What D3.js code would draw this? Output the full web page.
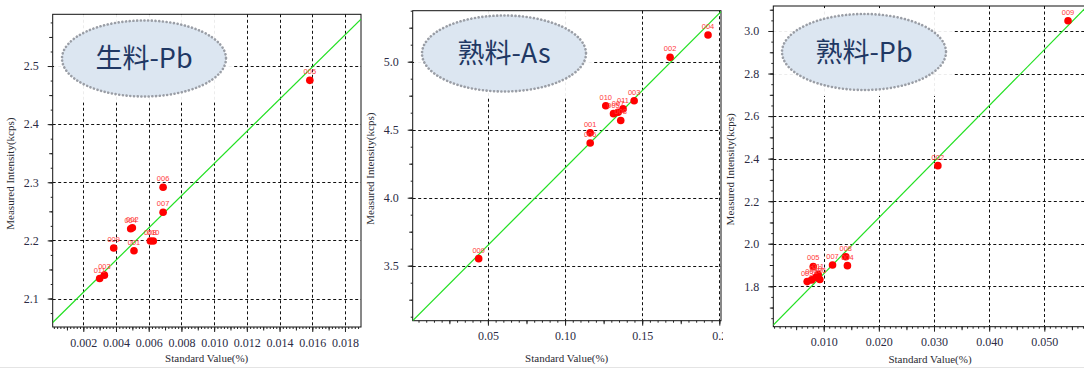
<!DOCTYPE html>
<html>
<head>
<meta charset="utf-8">
<script src="https://cdn.jsdelivr.net/npm/d3@7"></script>
<style>
  body { margin: 0; background: #fff; }
  svg text.serif, svg .tick text { font-family: "Times New Roman", "Liberation Serif", serif !important; }
</style>
</head>
<body>
<svg id="chart" width="1084" height="370"></svg>
<script>
// sample names (same set for every panel)
const sampleNames = ["001", "002", "003", "004", "005", "006", "007", "008", "009", "010", "011"];

// 生料-Pb
const rawPbX = [0.00510, 0.00500, 0.00329, 0.00490, 0.01585, 0.00688, 0.00688, 0.00610, 0.00386, 0.00628, 0.00300];
const rawPbY = [2.1823, 2.2218, 2.1402, 2.2201, 2.4754, 2.2914, 2.2484, 2.1990, 2.1870, 2.1990, 2.1344];
const rawPbFit = [27.69, 2.0552];   // slope, intercept
const rawPbXTicks = [0.002, 0.004, 0.006, 0.008, 0.010, 0.012, 0.014, 0.016, 0.018];
const rawPbYTicks = [2.1, 2.2, 2.3, 2.4, 2.5];

// 熟料-As
const clkAsX = [0.1163, 0.1681, 0.1448, 0.1927, 0.1314, 0.1163, 0.1344, 0.1361, 0.0440, 0.1264, 0.1376];
const clkAsY = [4.478, 5.032, 4.713, 5.196, 4.618, 4.402, 4.628, 4.568, 3.552, 4.676, 4.653];
const clkAsFit = [11.367, 3.0816];
const clkAsXTicks = [0.05, 0.10, 0.15, 0.20];
const clkAsYTicks = [3.5, 4.0, 4.5, 5.0];

// 熟料-Pb
const clkPbX = [0.0078, 0.0307, 0.0070, 0.0143, 0.0081, 0.0093, 0.0116, 0.0140, 0.0543, 0.0086, 0.0090];
const clkPbY = [1.830, 2.367, 1.822, 1.897, 1.893, 1.832, 1.900, 1.939, 3.048, 1.842, 1.855];
const clkPbFit = [26.33, 1.5954];
const clkPbXTicks = [0.010, 0.020, 0.030, 0.040, 0.050];
const clkPbYTicks = [1.8, 2.0, 2.2, 2.4, 2.6, 2.8, 3.0];

const svg = d3.select("#chart");
const defs = svg.append("defs");

const panels = [
  {
    id: "p1", title: "生料-Pb", clip: [0, 362],
    px: [52.7, 361], py: [327, 14.3],
    xDom: [0.00013, 0.01898], yDom: [2.051, 2.589],
    xs: rawPbX, ys: rawPbY, fit: rawPbFit,
    xTicks: rawPbXTicks, yTicks: rawPbYTicks,
    xMid: 0.001, xMinor: 0.0002, yMid: 0.05, yMinor: 0.025,
    xFmt: d3.format(".3f"), yFmt: d3.format(".1f"),
    ell: [144, 58.5], xTitle: [206.7, 362], yTitleX: 14
  },
  {
    id: "p2", title: "熟料-As", clip: [362, 723],
    px: [412.7, 721], py: [320.7, 10.7],
    xDom: [0.00123, 0.2011], yDom: [3.0956, 5.375],
    xs: clkAsX, ys: clkAsY, fit: clkAsFit,
    xTicks: clkAsXTicks, yTicks: clkAsYTicks,
    xMid: 0.025, xMinor: 0.005, yMid: 0.25, yMinor: 0.125,
    xFmt: d => d === 0.2 ? "0.2" : d3.format(".2f")(d), yFmt: d3.format(".1f"),
    ell: [504, 53.5], xTitle: [566.7, 362], yTitleX: 373.5
  },
  {
    id: "p3", title: "熟料-Pb", clip: [723, 1084],
    px: [773.3, 1088], py: [326.7, 6],
    xDom: [0.00086, 0.05792], yDom: [1.610, 3.1175],
    xs: clkPbX, ys: clkPbY, fit: clkPbFit,
    xTicks: clkPbXTicks, yTicks: clkPbYTicks,
    xMid: 0.005, xMinor: 0.001, yMid: 0.1, yMinor: 0.05,
    xFmt: d3.format(".3f"), yFmt: d3.format(".1f"),
    ell: [864, 52], xTitle: [930, 363], yTitleX: 733.5
  }
];

function inner(dom, step) {
  const out = [];
  const n0 = Math.ceil(dom[0] / step - 1e-9), n1 = Math.floor(dom[1] / step + 1e-9);
  for (let i = n0; i <= n1; i++) out.push(+(i * step).toFixed(6));
  return out;
}

panels.forEach(p => {
  defs.append("clipPath").attr("id", "clip-" + p.id)
    .append("rect").attr("x", p.clip[0]).attr("y", 0)
    .attr("width", p.clip[1] - p.clip[0]).attr("height", 370);
  defs.append("clipPath").attr("id", "plot-" + p.id)
    .append("rect").attr("x", p.px[0]).attr("y", p.py[1])
    .attr("width", p.px[1] - p.px[0]).attr("height", p.py[0] - p.py[1]);

  const g = svg.append("g").attr("clip-path", `url(#clip-${p.id})`);
  const x = d3.scaleLinear().domain(p.xDom).range(p.px);
  const y = d3.scaleLinear().domain(p.yDom).range(p.py);

  // dashed grid
  const grid = g.append("g").attr("stroke", "#111").attr("stroke-width", 1)
    .attr("stroke-dasharray", "3,2.5");
  grid.selectAll(".gx").data(p.xTicks.filter(v => x(v) < p.px[1] - 1)).join("line")
    .attr("x1", d => Math.round(x(d)) + 0.5).attr("x2", d => Math.round(x(d)) + 0.5)
    .attr("y1", p.py[1]).attr("y2", p.py[0]);
  grid.selectAll(".gy").data(p.yTicks).join("line")
    .attr("y1", d => Math.round(y(d)) + 0.5).attr("y2", d => Math.round(y(d)) + 0.5)
    .attr("x1", p.px[0]).attr("x2", p.px[1]);

  // title badge
  const [cx, cy] = p.ell;
  g.append("rect").attr("x", cx - 90).attr("y", cy - 44).attr("width", 180).attr("height", 88)
    .attr("fill", "#fff").attr("opacity", 0.92);
  g.append("ellipse").attr("cx", cx).attr("cy", cy).attr("rx", 82).attr("ry", 38)
    .attr("fill", "#dce6f1").attr("stroke", "#9a9ea6").attr("stroke-width", 2.6)
    .attr("stroke-dasharray", "0.1,3.6").attr("stroke-linecap", "round");
  g.append("text").attr("x", cx).attr("y", cy + 9.5).attr("text-anchor", "middle")
    .style("font-family", "'Noto Sans CJK SC', 'Noto Sans', sans-serif")
    .attr("font-size", 27).attr("fill", "#1f3864").text(p.title);

  // frame
  g.append("rect").attr("x", p.px[0]).attr("y", p.py[1])
    .attr("width", p.px[1] - p.px[0]).attr("height", p.py[0] - p.py[1])
    .attr("fill", "none").attr("stroke", "#111").attr("stroke-width", 1);

  // axes: minor, mid and major ticks
  const ax = g.append("g").attr("transform", `translate(0,${p.py[0]})`);
  ax.append("g").call(d3.axisBottom(x).tickValues(inner(p.xDom, p.xMinor)).tickSize(2).tickFormat(""));
  ax.append("g").call(d3.axisBottom(x).tickValues(inner(p.xDom, p.xMid)).tickSize(3.5).tickFormat(""));
  ax.append("g").call(d3.axisBottom(x).tickValues(p.xTicks).tickSize(5).tickPadding(6).tickFormat(p.xFmt));
  const ay = g.append("g").attr("transform", `translate(${p.px[0]},0)`);
  ay.append("g").call(d3.axisLeft(y).tickValues(inner(p.yDom, p.yMinor)).tickSize(2).tickFormat(""));
  ay.append("g").call(d3.axisLeft(y).tickValues(inner(p.yDom, p.yMid)).tickSize(3.5).tickFormat(""));
  ay.append("g").call(d3.axisLeft(y).tickValues(p.yTicks).tickSize(5).tickPadding(9).tickFormat(p.yFmt));
  g.selectAll(".domain").remove();
  g.selectAll(".tick line").attr("stroke", "#222");
  g.selectAll(".tick text").attr("font-size", 12).attr("fill", "#2b2b44");

  // axis titles
  g.append("text").attr("class", "serif").attr("x", p.xTitle[0]).attr("y", p.xTitle[1])
    .attr("text-anchor", "middle").attr("font-size", 11).attr("fill", "#2b2b33")
    .text("Standard Value(%)");
  g.append("text").attr("class", "serif")
    .attr("transform", `translate(${p.yTitleX},${(p.py[0] + p.py[1]) / 2 + 3}) rotate(-90)`)
    .attr("text-anchor", "middle").attr("font-size", 11).attr("fill", "#2b2b33")
    .text("Measured Intensity(kcps)");

  // regression line
  const pg = g.append("g").attr("clip-path", `url(#plot-${p.id})`);
  pg.append("line")
    .attr("x1", x(p.xDom[0])).attr("y1", y(p.fit[1] + p.fit[0] * p.xDom[0]))
    .attr("x2", x(p.xDom[1])).attr("y2", y(p.fit[1] + p.fit[0] * p.xDom[1]))
    .attr("stroke", "#22e022").attr("stroke-width", 1.2);

  // samples
  const pts = sampleNames.map((n, i) => ({ n, x: p.xs[i], y: p.ys[i] }));
  pg.selectAll("circle").data(pts).join("circle")
    .attr("cx", d => x(d.x)).attr("cy", d => y(d.y)).attr("r", 3.8).attr("fill", "#ff0000");
  pg.selectAll(".lbl").data(pts).join("text").attr("class", "lbl")
    .attr("x", d => x(d.x)).attr("y", d => y(d.y) - 6).attr("text-anchor", "middle")
    .style("font-family", "'Liberation Sans', sans-serif")
    .attr("font-size", 7.5).attr("fill", "#ff3b3b").text(d => d.n);
});

// faint frame line under the pasted screenshots
svg.append("line").attr("x1", 0).attr("x2", 1084).attr("y1", 367.5).attr("y2", 367.5)
  .attr("stroke", "#e4e4e4");
</script>
</body>
</html>
